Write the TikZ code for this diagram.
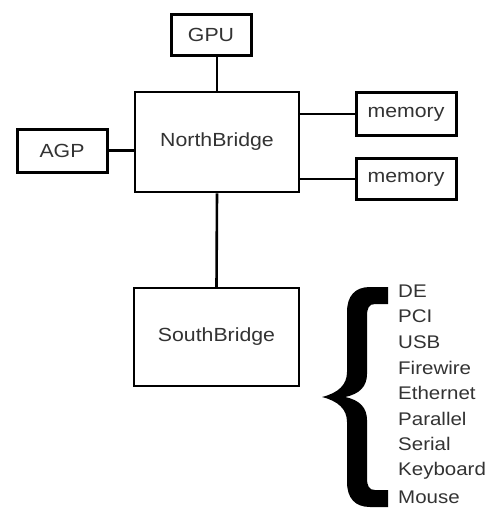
\documentclass[tikz,border=0pt]{standalone}
\usepackage{fontspec}
\setmainfont{Liberation Sans}[FakeStretch=1.12]
\begin{document}
\begin{tikzpicture}[x=1pt,y=-1pt,
  box/.style={draw=black, line width=3pt, inner sep=0pt, text=black!80,
    font=\fontsize{19}{21}\selectfont},
  link/.style={draw=black, line width=2.6pt},
  thinlink/.style={draw=black, line width=1.6pt},
  item/.style={anchor=west, inner sep=0pt, text=black!80, font=\fontsize{18.3}{22}\selectfont}]
\useasboundingbox[fill=white] (0,0) rectangle (488,508);
\node[box, minimum width=80pt, minimum height=41pt] (gpu) at (211,35) {GPU};
\node[box, line width=2.6pt, minimum width=164pt, minimum height=100pt] (nb) at (217,142) {NorthBridge};
\node[box, minimum width=90pt, minimum height=43pt] (agp) at (62,150.5) {AGP};
\node[box, minimum width=100pt, minimum height=42pt] (m1) at (406,114) {memory};
\node[box, minimum width=100pt, minimum height=41pt] (m2) at (406,179) {memory};
\node[box, line width=2.2pt, minimum width=165pt, minimum height=98pt] (sb) at (216.5,337) {SouthBridge};
\draw[link] (gpu.south -| nb.north) -- (nb.north);
\draw[link] (agp.east) -- (agp.east -| nb.west);
\draw[link] (m1.west -| nb.east) -- (m1.west);
\draw[thinlink] (m2.west -| nb.east) -- (m2.west);
\draw[link] (nb.south) -- (sb.north);
% brace
\fill[black] (388,287) -- (370,287) .. controls (355,287) and (347,296) .. (347,312)
  -- (347,372) .. controls (347,385) and (338,393) .. (322,397)
  .. controls (338,401) and (347,409) .. (347,422)
  -- (347,482) .. controls (347,498) and (355,507) .. (370,507) -- (388,507) -- (388,490)
  -- (375,490) .. controls (369,490) and (367,486) .. (367,478)
  -- (367,420) .. controls (367,408) and (360,400) .. (345,397)
  .. controls (360,394) and (367,386) .. (367,374)
  -- (367,316) .. controls (367,308) and (369,304) .. (375,304) -- (388,304) -- cycle;
\node[item] (i1) at (398,291) {DE};
\node[item] (i2) at (398,316.5) {PCI};
\node[item] (i3) at (398,342) {USB};
\node[item] (i4) at (398,367.5) {Firewire};
\node[item] (i5) at (398,393) {Ethernet};
\node[item] (i6) at (398,418.5) {Parallel};
\node[item] (i7) at (398,444) {Serial};
\node[item] (i8) at (398,471) {Keyboard};
\node[item] (i9) at (398,497) {Mouse};
\end{tikzpicture}
\end{document}
